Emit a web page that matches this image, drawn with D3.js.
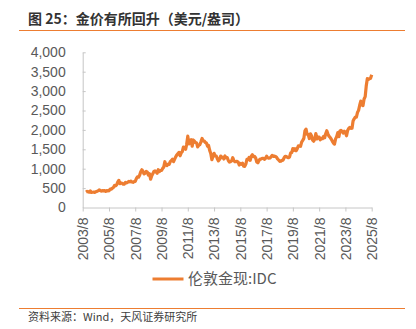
<!DOCTYPE html>
<html><head><meta charset="utf-8">
<script src="https://cdn.jsdelivr.net/npm/d3@7"></script>
<style>body{margin:0;background:#fff;}svg{display:block;}</style>
</head><body>
<svg id="c" width="416" height="329"></svg>
<script>
// Data: monthly London gold spot (USD/oz), starting 2003/11
const startDate = "2003-11";
const goldPrices = [
  398,416,
  402,397,427,388,393,395,391,408,416,428,453,438,
  422,435,428,436,417,437,429,433,473,470,495,517,
  569,556,582,654,700,614,633,624,599,604,646,632,
  650,672,662,680,659,650,666,673,743,789,783,834,
  923,972,934,865,885,930,914,833,872,730,815,870,
  928,942,916,883,975,927,954,955,1008,1040,1180,1096,
  1081,1118,1113,1180,1207,1244,1181,1248,1307,1357,1386,1421,
  1333,1410,1439,1556,1536,1500,1628,1840,1640,1722,1746,1580,
  1740,1710,1669,1664,1561,1604,1622,1692,1780,1719,1714,1675,
  1663,1578,1597,1472,1393,1234,1313,1396,1327,1323,1253,1202,
  1240,1326,1284,1296,1250,1327,1282,1287,1210,1171,1182,1199,
  1283,1212,1183,1182,1190,1172,1095,1133,1114,1142,1065,1061,
  1118,1238,1233,1293,1215,1322,1360,1309,1316,1277,1173,1151,
  1211,1249,1249,1268,1268,1242,1269,1322,1280,1271,1275,1303,
  1345,1318,1325,1315,1299,1253,1224,1190,1192,1215,1222,1282,
  1321,1313,1292,1284,1305,1409,1414,1520,1472,1513,1464,1517,
  1589,1585,1577,1687,1730,1781,1975,2020,1886,1879,1777,1898,
  1847,1734,1708,1769,1906,1770,1814,1814,1743,1783,1774,1829,
  1796,1909,1980,1897,1837,1807,1766,1711,1661,1633,1768,1824,
  1928,1827,1969,1990,1963,1919,1965,1940,1849,1983,2036,2063,
  2040,2044,2230,2286,2327,2327,2447,2503,2635,2744,2643,2625,
  2798,2858,3124,3320,3300,3320,3330,3420
];
const xTickLabels = ["2003/8","2005/8","2007/8","2009/8","2011/8","2013/8","2015/8","2017/8","2019/8","2021/8","2023/8","2025/8"];
const yTicks = [0,500,1000,1500,2000,2500,3000,3500,4000];
const seriesName = "伦敦金现:IDC";
const titleText = "图 25：金价有所回升（美元/盎司）";
const sourceText = "资料来源：Wind，天风证券研究所";

const orange = "#ED7D31";
const gray = "#595959";
const axisGray = "#c6c6c6";
const svg = d3.select("#c");
const parseM = d3.timeParse("%Y/%m");
const start = d3.timeParse("%Y-%m")(startDate);
const data = goldPrices.map((v,i)=>({date:d3.timeMonth.offset(start,i), v}));

const x = d3.scaleTime().domain([parseM("2003/8"), parseM("2025/8")]).range([82.7, 371.7]);
const y = d3.scaleLinear().domain([0,4000]).range([207.5, 52.3]);

// title
svg.append("text").attr("x",28).attr("y",24).attr("font-family","'Noto Sans CJK SC',sans-serif")
  .attr("font-size",14).attr("font-weight","bold").attr("fill","#333").text(titleText);
svg.append("line").attr("x1",19).attr("x2",405).attr("y1",30.5).attr("y2",30.5).attr("stroke",orange).attr("stroke-width",1);

// y axis
const yAxis = svg.append("g").attr("transform","translate(82.7,0)")
  .call(d3.axisLeft(y).tickValues(yTicks).tickFormat(d3.format(",")).tickSizeInner(-3).tickSizeOuter(0).tickPadding(17));
yAxis.select(".domain").attr("stroke",axisGray);
yAxis.selectAll(".tick line").attr("stroke",axisGray).filter(d=>d===0).remove();
yAxis.selectAll("text").attr("font-family","'Liberation Sans',Arial,sans-serif").attr("font-size",14).attr("fill",gray);

// x axis
const xAxis = svg.append("g").attr("transform",`translate(0,${y(0)})`)
  .call(d3.axisBottom(x).tickValues(xTickLabels.map(parseM)).tickFormat(d3.timeFormat("%Y/%-m")).tickSizeInner(4).tickSizeOuter(0));
xAxis.select(".domain").attr("stroke",axisGray);
xAxis.selectAll(".tick line").attr("stroke",axisGray);
xAxis.selectAll("text").attr("font-family","'Liberation Sans',Arial,sans-serif").attr("font-size",14).attr("fill",gray)
  .attr("transform","rotate(-90)").attr("text-anchor","end").attr("dy","0.35em").attr("x",-10).attr("y",0);

// line
svg.append("path").datum(data).attr("fill","none").attr("stroke",orange).attr("stroke-width",3.2)
  .attr("stroke-linejoin","round")
  .attr("d", d3.line().x(d=>x(d.date)).y(d=>y(d.v)));

// legend
svg.append("line").attr("x1",152.5).attr("x2",183.5).attr("y1",279).attr("y2",279).attr("stroke",orange).attr("stroke-width",3);
svg.append("text").attr("x",188).attr("y",279).attr("dy","0.35em").attr("font-family","'Noto Sans CJK SC',sans-serif")
  .attr("font-size",15).attr("fill",gray).text(seriesName);

// source
svg.append("line").attr("x1",19).attr("x2",405).attr("y1",308.5).attr("y2",308.5).attr("stroke",orange).attr("stroke-width",1);
svg.append("text").attr("x",28).attr("y",321).attr("font-family","'Noto Sans CJK SC',sans-serif")
  .attr("font-size",11).attr("fill","#404040").text(sourceText);
</script>
</body></html>
